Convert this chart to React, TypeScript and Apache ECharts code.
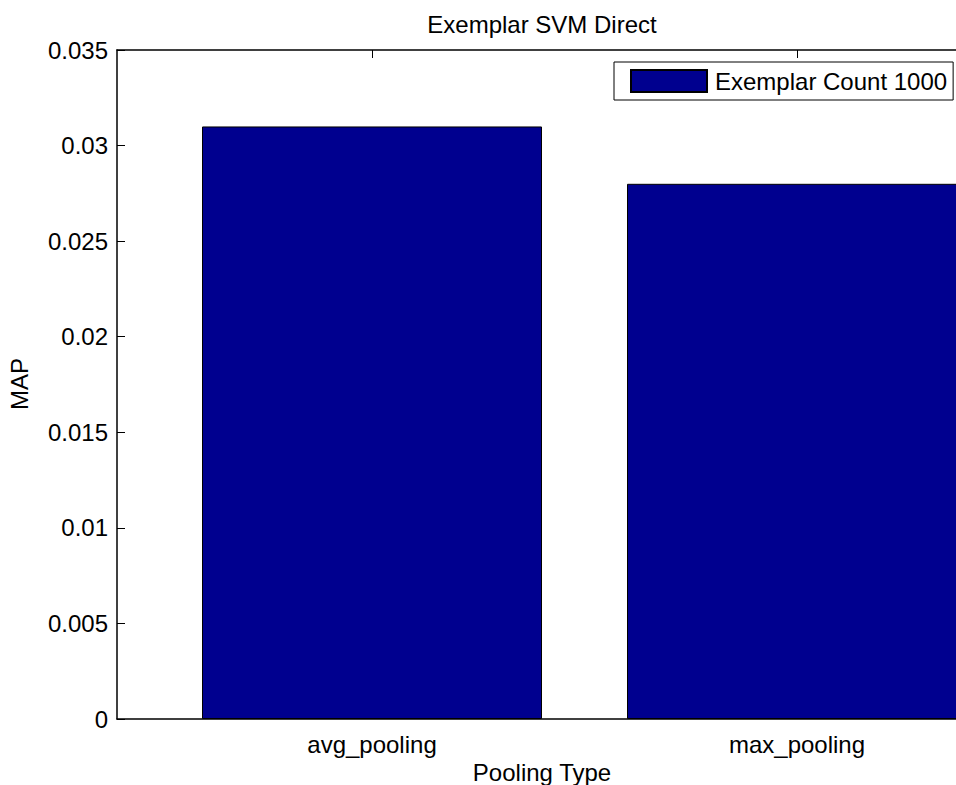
import React, { useEffect, useRef } from "react";
import * as echarts from "echarts";

// Pooling comparison for the exemplar SVM (direct) run
const categories: string[] = ["avg_pooling", "max_pooling"];
const categoryPositions: number[] = [1, 2];
const mapValues: number[] = [0.031, 0.028];
const seriesName = "Exemplar Count 1000";
const yTicks: number[] = [0, 0.005, 0.01, 0.015, 0.02, 0.025, 0.03, 0.035];

const FONT = "'Liberation Sans', Arial, Helvetica, sans-serif";
const BAR_COLOR = "#00008F";

export default function App() {
  const ref = useRef<HTMLDivElement>(null);

  useEffect(() => {
    if (!ref.current) return;
    const chart = echarts.init(ref.current, undefined, { renderer: "svg" });

    const barData = categoryPositions.map((x, i) => [x, mapValues[i]]);
    const catLabel = (v: number) => {
      const idx = categoryPositions.indexOf(Math.round(v));
      return idx >= 0 ? categories[idx] : "";
    };

    const axisLine = { show: true, onZero: false, lineStyle: { color: "#000", width: 1.5 } };

    chart.setOption({
      animation: false,
      backgroundColor: "#fff",
      textStyle: { fontFamily: FONT },
      // the plot box runs slightly past the right edge of the canvas
      grid: {
        left: 117,
        right: -11,
        top: 50,
        bottom: 66,
        containLabel: false,
        outerBoundsMode: "none",
      },
      legend: {
        show: true,
        data: [seriesName],
        left: 614,
        top: 62,
        orient: "horizontal",
        icon: "rect",
        itemWidth: 76,
        itemHeight: 22,
        padding: [7, 6, 7, 16],
        backgroundColor: "#fff",
        borderColor: "#000",
        borderWidth: 1,
        borderRadius: 0,
        selectedMode: false,
        textStyle: { fontFamily: FONT, fontSize: 24, color: "#000", padding: [0, 0, 0, 3] },
      },
      xAxis: [
        {
          type: "value",
          position: "bottom",
          min: 0.4,
          max: 2.4,
          axisLine,
          axisTick: {
            show: true,
            inside: true,
            length: 8,
            customValues: categoryPositions,
            lineStyle: { color: "#000", width: 1 },
          },
          axisLabel: {
            show: true,
            customValues: categoryPositions,
            formatter: (v: number) => catLabel(v),
            fontFamily: FONT,
            fontSize: 24,
            color: "#000",
            margin: 13,
          },
          splitLine: { show: false },
          name: "Pooling Type",
          nameLocation: "middle",
          nameGap: 38,
          nameTextStyle: { fontFamily: FONT, fontSize: 24, color: "#000", lineHeight: 24 },
        },
        {
          type: "value",
          position: "top",
          min: 0.4,
          max: 2.4,
          axisLine,
          axisTick: {
            show: true,
            inside: true,
            length: 8,
            customValues: categoryPositions,
            lineStyle: { color: "#000", width: 1 },
          },
          axisLabel: { show: false },
          splitLine: { show: false },
        },
      ],
      yAxis: {
        type: "value",
        min: 0,
        max: 0.035,
        interval: 0.005,
        axisLine,
        axisTick: { show: true, inside: true, length: 8, lineStyle: { color: "#000", width: 1 } },
        axisLabel: {
          show: true,
          fontFamily: FONT,
          fontSize: 24,
          color: "#000",
          margin: 9,
          formatter: (v: number) => {
            const t = yTicks.find((y) => Math.abs(y - v) < 1e-9);
            return String(t !== undefined ? t : v);
          },
        },
        splitLine: { show: false },
      },
      series: [
        {
          name: seriesName,
          type: "bar",
          xAxisIndex: 0,
          barWidth: "80%",
          data: barData,
          itemStyle: { color: BAR_COLOR, borderColor: "#000", borderWidth: 1 },
        },
      ],
      graphic: [
        {
          type: "text",
          x: 542,
          y: 24,
          style: {
            text: "Exemplar SVM Direct",
            fontFamily: FONT,
            fontSize: 24,
            fill: "#000",
            align: "center",
            verticalAlign: "middle",
          },
        },
        {
          type: "text",
          x: 19,
          y: 384,
          rotation: Math.PI / 2,
          style: {
            text: "MAP",
            fontFamily: FONT,
            fontSize: 24,
            fill: "#000",
            align: "center",
            verticalAlign: "middle",
          },
        },
      ],
    });

    return () => chart.dispose();
  }, []);

  return (
    <div
      ref={ref}
      style={{ position: "fixed", left: 0, top: 0, width: 956, height: 785, background: "#fff" }}
    />
  );
}
